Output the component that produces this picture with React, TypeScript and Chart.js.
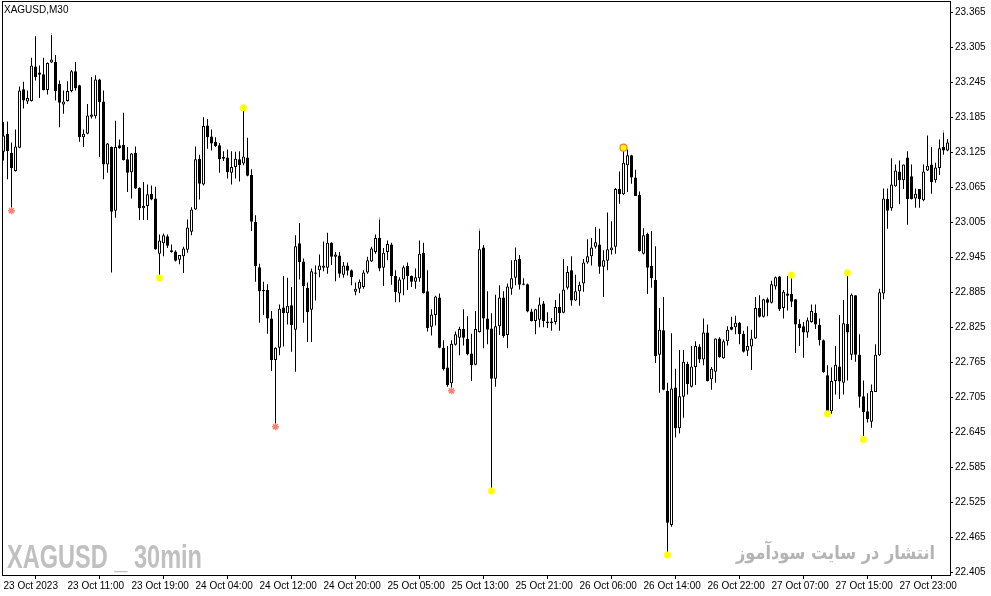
import React, { useEffect, useLayoutEffect, useRef } from 'react';
import { Chart, registerables } from 'chart.js';

Chart.register(...registerables);

// ---- Data (XAGUSD, M30) ----
const opens = [
  23.126, 23.157, 23.124, 23.093, 23.133, 23.233, 23.212, 23.213, 23.272, 23.262,
  23.259, 23.232, 23.279, 23.280, 23.242, 23.207, 23.213, 23.230, 23.264, 23.240,
  23.151, 23.157, 23.186, 23.187, 23.250, 23.212, 23.104, 23.134, 23.025, 23.137,
  23.138, 23.113, 23.091, 23.124, 23.064, 23.029, 23.033, 23.054, 23.046, 22.951,
  22.969, 22.981, 22.957, 22.955, 22.941, 22.947, 22.958, 22.989, 23.027, 23.114,
  23.070, 23.171, 23.152, 23.143, 23.137, 23.117, 23.116, 23.090, 23.100, 23.113,
  23.106, 23.116, 23.086, 23.006, 22.928, 22.889, 22.889, 22.840, 22.769, 22.790,
  22.859, 22.849, 22.863, 22.821, 22.969, 22.938, 22.893, 22.855, 22.917, 22.923,
  22.927, 22.927, 22.970, 22.946, 22.948, 22.915, 22.931, 22.923, 22.886, 22.891,
  22.894, 22.919, 22.938, 22.954, 22.978, 22.927, 22.954, 22.967, 22.913, 22.883,
  22.907, 22.930, 22.913, 22.903, 22.909, 22.953, 22.887, 22.826, 22.846, 22.876,
  22.790, 22.756, 22.729, 22.795, 22.807, 22.822, 22.805, 22.780, 22.761, 22.817,
  22.962, 22.840, 22.823, 22.737, 22.827, 22.876, 22.812, 22.891, 22.910, 22.942,
  22.900, 22.899, 22.852, 22.836, 22.838, 22.866, 22.835, 22.832, 22.834, 22.860,
  22.850, 22.893, 22.923, 22.871, 22.887, 22.900, 22.936, 22.947, 22.963, 22.967,
  22.929, 22.939, 22.957, 22.963, 23.062, 23.053, 23.103, 23.120, 23.082, 23.052,
  22.951, 22.985, 22.930, 22.906, 22.778, 22.820, 22.716, 22.486, 22.722, 22.652,
  22.706, 22.762, 22.723, 22.757, 22.792, 22.770, 22.816, 22.736, 22.749, 22.806,
  22.772, 22.801, 22.826, 22.825, 22.833, 22.814, 22.785, 22.792, 22.806, 22.858,
  22.843, 22.873, 22.867, 22.895, 22.912, 22.858, 22.883, 22.882, 22.873, 22.831,
  22.827, 22.816, 22.834, 22.850, 22.829, 22.803, 22.743, 22.681, 22.733, 22.758,
  22.730, 22.831, 22.778, 22.880, 22.778, 22.707, 22.681, 22.663, 22.714, 22.777,
  22.883, 23.045, 23.029, 23.067, 23.092, 23.077, 23.116, 23.084, 23.046, 23.062,
  23.043, 23.094, 23.104, 23.077, 23.098, 23.134, 23.128,
];
const highs = [
  23.177, 23.178, 23.142, 23.164, 23.238, 23.246, 23.231, 23.287, 23.324, 23.274,
  23.287, 23.279, 23.326, 23.292, 23.248, 23.231, 23.247, 23.266, 23.280, 23.241,
  23.164, 23.208, 23.254, 23.257, 23.251, 23.231, 23.141, 23.135, 23.179, 23.147,
  23.193, 23.134, 23.124, 23.135, 23.065, 23.074, 23.070, 23.068, 23.066, 22.984,
  22.986, 22.984, 22.967, 22.957, 22.949, 22.963, 23.010, 23.031, 23.135, 23.121,
  23.185, 23.182, 23.164, 23.151, 23.141, 23.127, 23.130, 23.127, 23.126, 23.127,
  23.200, 23.150, 23.096, 23.017, 22.934, 22.903, 22.899, 22.853, 22.791, 22.864,
  22.913, 22.910, 22.894, 22.983, 23.004, 22.943, 22.902, 22.926, 22.931, 22.950,
  22.972, 22.987, 22.971, 22.954, 22.954, 22.937, 22.936, 22.924, 22.902, 22.907,
  22.923, 22.946, 22.963, 22.984, 23.010, 22.961, 22.974, 22.970, 22.923, 22.911,
  22.931, 22.936, 22.914, 22.926, 22.974, 22.970, 22.923, 22.856, 22.879, 22.883,
  22.803, 22.793, 22.803, 22.818, 22.826, 22.856, 22.844, 22.814, 22.853, 22.991,
  22.966, 22.887, 22.849, 22.881, 22.897, 22.887, 22.900, 22.940, 22.962, 22.949,
  22.909, 22.900, 22.857, 22.857, 22.876, 22.870, 22.851, 22.841, 22.872, 22.883,
  22.942, 22.930, 22.947, 22.915, 22.903, 22.942, 22.976, 22.978, 22.997, 22.994,
  22.957, 23.022, 23.007, 23.064, 23.092, 23.131, 23.130, 23.121, 23.095, 23.058,
  22.995, 22.987, 22.990, 22.964, 22.858, 22.877, 22.730, 22.815, 22.754, 22.786,
  22.786, 22.766, 22.793, 22.801, 22.796, 22.840, 22.830, 22.757, 22.806, 22.808,
  22.804, 22.827, 22.843, 22.845, 22.834, 22.819, 22.827, 22.821, 22.877, 22.880,
  22.874, 22.876, 22.905, 22.912, 22.913, 22.889, 22.913, 22.911, 22.873, 22.839,
  22.834, 22.842, 22.864, 22.864, 22.840, 22.804, 22.760, 22.756, 22.793, 22.846,
  22.872, 22.913, 22.883, 22.880, 22.813, 22.734, 22.712, 22.727, 22.796, 22.891,
  23.063, 23.063, 23.115, 23.104, 23.111, 23.104, 23.127, 23.104, 23.063, 23.062,
  23.104, 23.154, 23.134, 23.107, 23.147, 23.159, 23.148,
];
const lows = [
  23.111, 23.079, 23.026, 23.092, 23.132, 23.200, 23.208, 23.212, 23.248, 23.218,
  23.231, 23.224, 23.278, 23.214, 23.168, 23.191, 23.212, 23.228, 23.231, 23.143,
  23.134, 23.156, 23.183, 23.183, 23.117, 23.079, 23.090, 22.919, 23.013, 23.131,
  23.111, 23.057, 23.046, 23.062, 23.009, 23.009, 23.009, 23.043, 22.958, 22.914,
  22.947, 22.961, 22.953, 22.938, 22.933, 22.918, 22.953, 22.983, 23.026, 23.044,
  23.068, 23.131, 23.128, 23.134, 23.090, 23.110, 23.080, 23.070, 23.080, 23.075,
  23.103, 23.084, 22.990, 22.903, 22.833, 22.846, 22.814, 22.750, 22.657, 22.777,
  22.792, 22.830, 22.783, 22.749, 22.907, 22.833, 22.800, 22.800, 22.871, 22.911,
  22.921, 22.917, 22.932, 22.904, 22.910, 22.910, 22.914, 22.897, 22.880, 22.884,
  22.891, 22.917, 22.937, 22.951, 22.921, 22.896, 22.940, 22.898, 22.868, 22.868,
  22.880, 22.889, 22.894, 22.891, 22.903, 22.883, 22.818, 22.811, 22.828, 22.789,
  22.751, 22.723, 22.717, 22.794, 22.777, 22.794, 22.777, 22.733, 22.760, 22.816,
  22.789, 22.796, 22.546, 22.723, 22.812, 22.807, 22.789, 22.881, 22.897, 22.890,
  22.897, 22.851, 22.835, 22.813, 22.825, 22.825, 22.824, 22.819, 22.830, 22.819,
  22.849, 22.890, 22.862, 22.870, 22.862, 22.886, 22.934, 22.931, 22.960, 22.917,
  22.877, 22.923, 22.950, 22.951, 23.037, 23.052, 23.057, 23.071, 23.050, 22.955,
  22.950, 22.882, 22.893, 22.764, 22.713, 22.717, 22.440, 22.483, 22.636, 22.643,
  22.670, 22.710, 22.722, 22.726, 22.764, 22.760, 22.732, 22.718, 22.730, 22.773,
  22.771, 22.794, 22.820, 22.813, 22.796, 22.782, 22.776, 22.752, 22.805, 22.842,
  22.842, 22.844, 22.866, 22.890, 22.853, 22.840, 22.854, 22.860, 22.781, 22.793,
  22.773, 22.807, 22.833, 22.822, 22.794, 22.747, 22.680, 22.677, 22.710, 22.702,
  22.710, 22.734, 22.769, 22.766, 22.687, 22.637, 22.662, 22.653, 22.714, 22.776,
  22.873, 22.994, 23.025, 23.066, 23.036, 23.062, 23.001, 23.044, 23.030, 23.030,
  23.041, 23.093, 23.054, 23.073, 23.086, 23.121, 23.127,
];
const closes = [
  23.154, 23.127, 23.098, 23.135, 23.231, 23.214, 23.218, 23.274, 23.254, 23.258,
  23.232, 23.278, 23.284, 23.230, 23.210, 23.212, 23.230, 23.264, 23.235, 23.151,
  23.157, 23.188, 23.190, 23.250, 23.211, 23.104, 23.140, 23.023, 23.134, 23.132,
  23.112, 23.090, 23.123, 23.063, 23.029, 23.033, 23.053, 23.044, 22.959, 22.974,
  22.983, 22.965, 22.954, 22.939, 22.949, 22.960, 22.996, 23.027, 23.113, 23.071,
  23.170, 23.151, 23.140, 23.136, 23.113, 23.114, 23.091, 23.100, 23.114, 23.103,
  23.118, 23.085, 23.006, 22.930, 22.887, 22.887, 22.840, 22.769, 22.790, 22.857,
  22.849, 22.862, 22.829, 22.964, 22.937, 22.896, 22.851, 22.921, 22.919, 22.931,
  22.931, 22.970, 22.946, 22.950, 22.917, 22.931, 22.922, 22.911, 22.891, 22.903,
  22.919, 22.940, 22.960, 22.978, 22.926, 22.953, 22.968, 22.913, 22.885, 22.907,
  22.928, 22.913, 22.903, 22.911, 22.951, 22.884, 22.824, 22.847, 22.878, 22.790,
  22.753, 22.726, 22.797, 22.813, 22.822, 22.807, 22.779, 22.760, 22.822, 22.959,
  22.840, 22.821, 22.737, 22.827, 22.876, 22.810, 22.895, 22.909, 22.941, 22.898,
  22.898, 22.852, 22.836, 22.856, 22.864, 22.836, 22.832, 22.835, 22.860, 22.849,
  22.890, 22.920, 22.871, 22.887, 22.898, 22.936, 22.947, 22.962, 22.971, 22.929,
  22.940, 22.959, 22.962, 23.062, 23.053, 23.107, 23.120, 23.082, 23.050, 22.956,
  22.983, 22.927, 22.909, 22.776, 22.821, 22.718, 22.490, 22.720, 22.652, 22.707,
  22.766, 22.728, 22.758, 22.793, 22.770, 22.816, 22.733, 22.754, 22.806, 22.774,
  22.801, 22.821, 22.821, 22.833, 22.813, 22.783, 22.793, 22.806, 22.858, 22.843,
  22.873, 22.867, 22.899, 22.911, 22.856, 22.886, 22.879, 22.869, 22.830, 22.824,
  22.816, 22.837, 22.853, 22.830, 22.803, 22.748, 22.681, 22.733, 22.761, 22.732,
  22.832, 22.816, 22.881, 22.778, 22.706, 22.680, 22.668, 22.716, 22.778, 22.885,
  23.046, 23.025, 23.070, 23.094, 23.077, 23.104, 23.045, 23.045, 23.054, 23.045,
  23.092, 23.102, 23.074, 23.099, 23.132, 23.128, 23.142,
];

// Bottom axis labels (one every 16 bars)
const xTickIndex = [0, 16, 32, 48, 64, 80, 96, 112, 128, 144, 160, 176, 192, 208, 224];
const xTickLabels = [
  '23 Oct 2023', '23 Oct 11:00', '23 Oct 19:00', '24 Oct 04:00', '24 Oct 12:00',
  '24 Oct 20:00', '25 Oct 05:00', '25 Oct 13:00', '25 Oct 21:00', '26 Oct 06:00',
  '26 Oct 14:00', '26 Oct 22:00', '27 Oct 07:00', '27 Oct 15:00', '27 Oct 23:00',
];
// Right axis price labels
const yTickValues = [
  23.365, 23.305, 23.245, 23.185, 23.125, 23.065, 23.005, 22.945, 22.885,
  22.825, 22.765, 22.705, 22.645, 22.585, 22.525, 22.465, 22.405,
];

// Indicator markers
const yellowIdx = [39, 60, 122, 166, 197, 206, 211, 215];
const yellowPrice = [22.9095, 23.2015, 22.5444, 22.4347, 22.9147, 22.6769, 22.9186, 22.6327];
const starIdx = [2, 68, 112];
const starPrice = [23.0249, 22.6546, 22.7163];
const orangeIdx = [155];
const orangePrice = [23.1329];
const tipIdx = [12, 94, 119, 235];
const tipPrice = [23.328, 23.012, 22.993, 23.161];

const FONT = "'Liberation Sans', Arial, sans-serif";

const framePlugin = {
  id: 'mt4frame',
  afterDraw(chart: any) {
    const { ctx, chartArea } = chart;
    const { left, top, right, bottom } = chartArea;
    ctx.save();
    ctx.strokeStyle = '#000000';
    ctx.lineWidth = 1;
    ctx.strokeRect(left + 0.5, top + 0.5, right - left, bottom - top);
    ctx.restore();
  },
};

function FitText(props: { text: string; width: number; style: React.CSSProperties; boxStyle: React.CSSProperties }) {
  const ref = useRef<HTMLSpanElement | null>(null);
  useLayoutEffect(() => {
    const el = ref.current;
    if (!el) return;
    el.style.transform = 'none';
    const w = el.getBoundingClientRect().width;
    if (w > 0) el.style.transform = `scaleX(${props.width / w})`;
  }, [props.text, props.width]);
  return (
    <div style={{ position: 'absolute', pointerEvents: 'none', whiteSpace: 'nowrap', ...props.boxStyle }}>
      <span ref={ref} style={{ display: 'inline-block', transformOrigin: '0 0', ...props.style }}>
        {props.text}
      </span>
    </div>
  );
}

export default function App() {
  const canvasRef = useRef<HTMLCanvasElement | null>(null);

  useEffect(() => {
    document.body.style.margin = '0';
    const canvas = canvasRef.current;
    if (!canvas) return;

    const idx = opens.map((_, i) => i);
    const bodies = idx.map((i) => ({ x: i, y: [opens[i], closes[i]] }));
    const wicks = idx.map((i) => ({ x: i, y: [lows[i], highs[i]] }));
    const bodyFill = idx.map((i) => (closes[i] >= opens[i] ? '#ffffff' : '#000000'));

    const chart = new Chart(canvas, {
      type: 'bar',
      data: {
        datasets: [
          {
            type: 'scatter',
            data: orangeIdx.map((x, k) => ({ x, y: orangePrice[k] })),
            pointStyle: 'circle',
            pointRadius: 3.5,
            backgroundColor: '#ffff00',
            borderColor: '#ff7a2a',
            borderWidth: 1.2,
            order: 0,
          } as any,
          {
            type: 'scatter',
            data: yellowIdx.map((x, k) => ({ x, y: yellowPrice[k] })),
            pointStyle: 'circle',
            pointRadius: 3.5,
            backgroundColor: '#ffff00',
            borderColor: '#ffff00',
            borderWidth: 0,
            order: 1,
          } as any,
          {
            type: 'scatter',
            data: starIdx.map((x, k) => ({ x, y: starPrice[k] })),
            pointStyle: 'star',
            pointRadius: 3.5,
            backgroundColor: '#fa8072',
            borderColor: '#fa8072',
            borderWidth: 1.5,
            order: 2,
          } as any,
          {
            type: 'scatter',
            data: tipIdx.map((x, k) => ({ x, y: tipPrice[k] })),
            pointStyle: 'line',
            rotation: 90,
            pointRadius: 1,
            borderColor: '#f0a050',
            borderWidth: 1,
            order: 2,
          } as any,
          {
            type: 'bar',
            data: bodies,
            backgroundColor: bodyFill,
            borderColor: '#000000',
            borderWidth: 1,
            borderSkipped: false,
            barThickness: 3,
            grouped: false,
            minBarLength: 1,
            inflateAmount: 0,
            order: 3,
          } as any,
          {
            type: 'bar',
            data: wicks,
            backgroundColor: '#000000',
            borderWidth: 0,
            barThickness: 1,
            grouped: false,
            inflateAmount: 0,
            order: 4,
          } as any,
        ],
      },
      options: {
        animation: false,
        responsive: false,
        events: [],
        layout: { autoPadding: false, padding: { left: 2, top: 1, right: 0, bottom: 0 } },
        plugins: {
          legend: { display: false },
          tooltip: { enabled: false },
          title: { display: false },
        },
        scales: {
          x: {
            type: 'linear',
            min: -0.375,
            max: 236.625,
            offset: false,
            grid: {
              display: true,
              drawOnChartArea: false,
              drawTicks: true,
              tickLength: 4,
              color: '#000000',
              tickColor: '#000000',
            },
            border: { display: false },
            afterBuildTicks: (axis: any) => {
              axis.ticks = xTickIndex.map((v) => ({ value: v }));
            },
            ticks: {
              autoSkip: false,
              maxRotation: 0,
              minRotation: 0,
              align: 'start',
              padding: 1,
              color: '#000000',
              font: { family: FONT, size: 10 },
              callback: (_v: any, i: number) => xTickLabels[i],
            },
            afterFit: (axis: any) => {
              axis.height = 21;
              axis.paddingLeft = 0;
              axis.paddingRight = 0;
              axis.paddingTop = 0;
              axis.paddingBottom = 0;
            },
          },
          y: {
            type: 'linear',
            position: 'right',
            min: 22.4004,
            max: 23.3844,
            grid: {
              display: true,
              drawOnChartArea: false,
              drawTicks: true,
              tickLength: 3,
              color: '#000000',
              tickColor: '#000000',
            },
            border: { display: false },
            afterBuildTicks: (axis: any) => {
              axis.ticks = yTickValues.map((v) => ({ value: v }));
            },
            ticks: {
              autoSkip: false,
              padding: 2,
              color: '#000000',
              font: { family: FONT, size: 10 },
              callback: (v: any) => Number(v).toFixed(3),
            },
            afterFit: (axis: any) => {
              axis.width = 41;
              axis.paddingLeft = 0;
              axis.paddingRight = 0;
              axis.paddingTop = 0;
              axis.paddingBottom = 0;
            },
          },
        },
      } as any,
      plugins: [framePlugin],
    });

    return () => {
      chart.destroy();
    };
  }, []);

  return (
    <div style={{ position: 'relative', width: 991, height: 596, background: '#ffffff', overflow: 'hidden' }}>
      <canvas ref={canvasRef} width={991} height={596} style={{ display: 'block' }} />
      <div
        style={{
          position: 'absolute',
          left: 4,
          top: 5,
          fontFamily: FONT,
          fontSize: 10,
          lineHeight: '10px',
          color: '#000000',
          whiteSpace: 'nowrap',
        }}
      >
        XAGUSD,M30
      </div>
      <FitText
        text="XAGUSD _ 30min"
        width={195}
        boxStyle={{ left: 7, top: 539 }}
        style={{ fontFamily: FONT, fontWeight: 'bold', fontSize: 34, lineHeight: '34px', color: '#c0c0c0' }}
      />
      <FitText
        text="انتشار در سایت سودآموز"
        width={199}
        boxStyle={{ left: 736, top: 543, direction: 'rtl' }}
        style={{ fontFamily: "'DejaVu Sans', sans-serif", fontWeight: 'bold', fontSize: 19, lineHeight: '19px', color: '#b4b4b4' }}
      />
    </div>
  );
}
